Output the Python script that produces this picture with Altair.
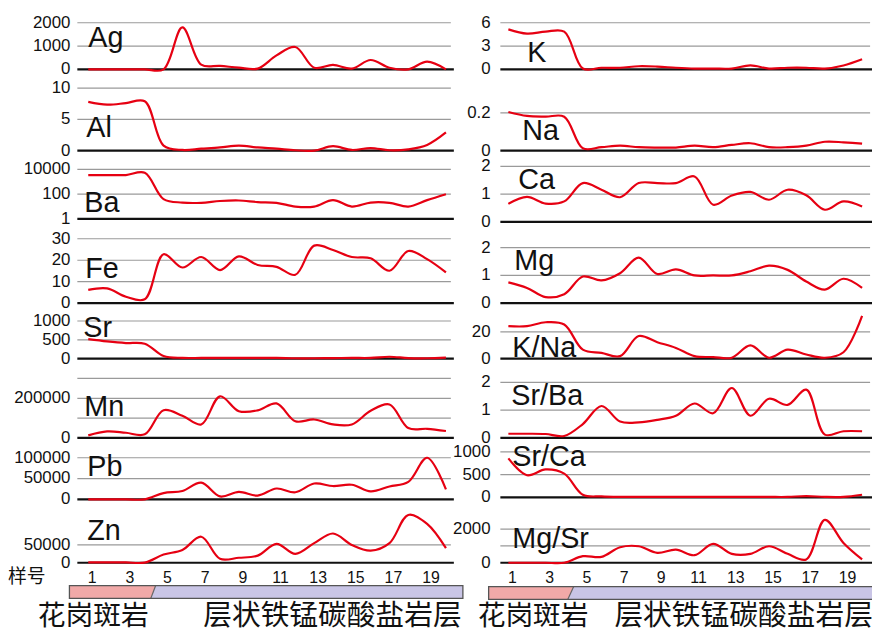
import altair as alt
import pandas as pd

samples = list(range(1, 21))
xlabels = [1, 3, 5, 7, 9, 11, 13, 15, 17, 19]

# left column
ag = [0, 0, 0, 0, 0, 1800, 200, 150, 70, 30, 600, 960, 70, 190, 30, 400, 70, 0, 330, 0]
al = [7.8, 7.35, 7.6, 7.9, 0.8, 0.1, 0.3, 0.5, 0.8, 0.5, 0.3, 0.05, 0.0, 0.7, 0.1, 0.4, 0.05, 0.2, 0.9, 2.9]
ba = [3500, 3500, 3500, 5400, 40, 21, 20, 28, 31, 23, 20, 10, 10, 33, 10, 21, 20, 10, 33, 100]
fe = [6.2, 6.9, 3.0, 1.8, 22.8, 16.6, 21.5, 15.4, 21.8, 17.8, 16.9, 13.2, 26.8, 24.8, 21.5, 20.9, 15.1, 24.3, 20.5, 14.3]
sr = [517, 457, 414, 397, 70, 20, 20, 20, 20, 20, 20, 10, 10, 15, 20, 20, 50, 15, 10, 25]
mn = [13000, 33000, 26000, 18000, 140000, 112000, 68000, 210000, 135000, 139000,
      174000, 84000, 93000, 68000, 68000, 137000, 169000, 50000, 46000, 35000]
pb = [0, 0, 0, 0, 15000, 20000, 40000, 7000, 18000, 9000,
      26000, 17000, 38000, 32000, 35000, 19000, 31000, 42000, 100000, 24000]
zn = [1000, 1000, 1000, 500, 23000, 36000, 73000, 11000, 14000, 20000,
      53000, 25000, 55000, 82000, 50000, 34000, 55000, 134000, 109000, 41000]

# right column
k = [5.15, 4.6, 4.85, 4.85, 0.1, 0.2, 0.2, 0.4, 0.35, 0.2, 0.1, 0.1, 0.1, 0.5, 0.1, 0.2, 0.2, 0.1, 0.5, 1.3]
na = [0.205, 0.184, 0.18, 0.18, 0.012, 0.018, 0.026, 0.018, 0.016, 0.016,
      0.026, 0.018, 0.03, 0.039, 0.018, 0.018, 0.026, 0.047, 0.044, 0.037]
ca = [0.65, 0.9, 0.66, 0.74, 1.4, 1.16, 0.89, 1.4, 1.4, 1.4, 1.64, 0.62, 0.95, 1.08, 0.8, 1.16, 0.96, 0.44, 0.74, 0.56]
mg = [0.75, 0.55, 0.22, 0.32, 0.96, 0.82, 1.08, 1.64, 1.05, 1.22, 1.0, 1.0, 1.0, 1.15, 1.35, 1.2, 0.78, 0.49, 0.88, 0.55]
kna = [24.3, 24.3, 27.2, 25.5, 6.7, 4.3, 1.9, 16.9, 12.3, 8, 1.9, 1.2, 0.7, 9.9, 0.7, 6.7, 3.1, 0.7, 4.8, 32]
srba = [0.15, 0.15, 0.14, 0.07, 0.5, 1.15, 0.59, 0.56, 0.65, 0.8, 1.24, 0.89, 1.8, 0.8, 1.41, 1.19, 1.74, 0.12, 0.24, 0.24]
srca = [857, 486, 614, 521, 57, 21, 10, 10, 10, 10, 10, 10, 10, 10, 10, 10, 29, 10, 10, 57]
mgsr = [0, 0, 0, 0, 390, 350, 920, 980, 590, 780, 450, 1120, 530, 530, 980, 530, 200, 2550, 1180, 200]

lith_left = "花岗斑岩"
lith_right = "层状铁锰碳酸盐岩层"

RED = "#e60012"
GRID = "#9a9a9a"
FONT = "Liberation Sans"
CJK = "Noto Sans CJK SC"

# column geometry (chart pixel coords)
COLS = {
    "L": dict(xr=[81, 442], g0=0.42, g1=20.26, b1=20.42, lx=63, bar=[0.0, 20.9, 4.32, 4.58]),
    "R": dict(xr=[505, 862], g0=0.57, g1=20.43, b1=20.6, lx=487, bar=[-0.06, 21.0, 4.19, 4.51]),
}

panels = [
    # name, values, col, domain, range, grid values, tick labels, label pos, scale type
    ("Ag", ag, "L", [0, 2000], [59, 12], [0, 1000, 2000], ["0", "1000", "2000"], (81, 36), "linear"),
    ("Al", al, "L", [0, 10], [141, 78], [0, 5, 10], ["0", "5", "10"], (79, 127), "linear"),
    ("Ba", ba, "L", [1, 10000], [210, 160], [1, 100, 10000], ["1", "100", "10000"], (77, 203), "log"),
    ("Fe", fe, "L", [0, 30], [295, 230], [0, 10, 20, 30], ["0", "10", "20", "30"], (78, 270), "linear"),
    ("Sr", sr, "L", [0, 1000], [351, 313], [0, 500, 1000], ["0", "500", "1000"], (76, 329), "linear"),
    ("Mn", mn, "L", [0, 300000], [431, 371], [0, 100000, 200000, 300000], ["0", "", "200000", ""], (77, 409), "linear"),
    ("Pb", pb, "L", [0, 100000], [493, 451], [0, 50000, 100000], ["0", "50000", "100000"], (80, 469), "linear"),
    ("Zn", zn, "L", [0, 50000], [557, 539], [0, 50000], ["0", "50000"], (80, 534), "linear"),
    ("K", k, "R", [0, 6], [59, 12], [0, 3, 6], ["0", "3", "6"], (524, 52), "linear"),
    ("Na", na, "R", [0, 0.2], [141, 103], [0, 0.2], ["0", "0.2"], (519, 130), "linear"),
    ("Ca", ca, "R", [0, 2], [213, 157], [0, 1, 2], ["0", "1", "2"], (515, 180), "linear"),
    ("Mg", mg, "R", [0, 2], [295, 239], [0, 1, 2], ["0", "1", "2"], (511, 262), "linear"),
    ("K/Na", kna, "R", [0, 20], [351, 324], [0, 20], ["0", "20"], (509, 349), "linear"),
    ("Sr/Ba", srba, "R", [0, 2], [431, 375], [0, 1, 2], ["0", "1", "2"], (508, 398), "linear"),
    ("Sr/Ca", srca, "R", [0, 1000], [491, 445], [0, 500, 1000], ["0", "500", "1000"], (509, 459), "linear"),
    ("Mg/Sr", mgsr, "R", [0, 2000], [557, 523], [0, 1000, 2000], ["0", "", "2000"], (509, 542), "linear"),
]

layers = []
for name, vals, col, dom, rng, grid, ticks, (px, py), stype in panels:
    c = COLS[col]
    xs = alt.Scale(domain=[1, 20], range=c["xr"])
    ys = alt.Scale(type=stype, domain=dom, range=rng)
    gdf = pd.DataFrame({"v": grid[1:], "x0": c["g0"], "x1": c["g1"]})
    bdf = pd.DataFrame({"v": grid[:1], "x0": c["g0"], "x1": c["b1"]})
    tdf = pd.DataFrame({"v": grid, "t": ticks})
    ldf = pd.DataFrame({"s": samples, "v": vals})
    gl = alt.Chart(gdf).mark_rule(color=GRID, strokeWidth=1.2).encode(
        x=alt.X("x0:Q", scale=xs, axis=None), x2="x1:Q",
        y=alt.Y("v:Q", scale=ys, axis=None))
    bl = alt.Chart(bdf).mark_rule(color="#111111", strokeWidth=2.2).encode(
        x=alt.X("x0:Q", scale=xs, axis=None), x2="x1:Q",
        y=alt.Y("v:Q", scale=ys, axis=None))
    ln = alt.Chart(ldf).mark_line(color=RED, strokeWidth=2.2, interpolate="catmull-rom").encode(
        x=alt.X("s:Q", scale=xs, axis=None),
        y=alt.Y("v:Q", scale=ys, axis=None))
    tk = alt.Chart(tdf).mark_text(align="right", baseline="middle", font=FONT, fontSize=17,
                                  color="#111111").encode(
        x=alt.value(c["lx"]), y=alt.Y("v:Q", scale=ys, axis=None), text="t:N")
    nm = alt.Chart(pd.DataFrame({"t": [name]})).mark_text(
        align="left", baseline="alphabetic", font=FONT, fontSize=29, color="#111111").encode(
        x=alt.value(px), y=alt.value(py), text="t:N")
    layers.append(alt.layer(gl, bl, ln, tk, nm))

# bottom: sample-number ticks, lithology bars and labels
for col, ybar in (("L", [593, 580]), ("R", [594, 581])):
    c = COLS[col]
    xs = alt.Scale(domain=[1, 20], range=c["xr"])
    yb = alt.Scale(domain=[0, 1], range=ybar)
    a, b, p0, p1 = c["bar"]
    xt = alt.Chart(pd.DataFrame({"s": xlabels, "t": [str(v) for v in xlabels]})).mark_text(
        baseline="alphabetic", font=FONT, fontSize=16, color="#111111", dx=4).encode(
        x=alt.X("s:Q", scale=xs, axis=None), y=alt.value(577), text="t:N")
    rect_df = pd.DataFrame({"a": [a], "b": [b], "y0": [0], "y1": [1]})
    full = alt.Chart(rect_df).mark_rect(fill="#c9c5e6").encode(
        x=alt.X("a:Q", scale=xs, axis=None), x2="b:Q",
        y=alt.Y("y0:Q", scale=yb, axis=None), y2="y1:Q")
    pink = alt.Chart(pd.DataFrame({"yy": [0, 1], "xl": [a, a], "xr": [p0, p1]})).mark_area(
        orient="horizontal", color="#f1a9a8", opacity=1).encode(
        y=alt.Y("yy:Q", scale=yb, axis=None),
        x=alt.X("xl:Q", scale=xs, axis=None), x2="xr:Q")
    slant = alt.Chart(pd.DataFrame({"xx": [p0, p1], "yy": [0, 1]})).mark_line(
        color="#666666", strokeWidth=1.2).encode(
        x=alt.X("xx:Q", scale=xs, axis=None), y=alt.Y("yy:Q", scale=yb, axis=None))
    outline = alt.Chart(rect_df).mark_rect(fillOpacity=0, stroke="#555555", strokeWidth=1.3).encode(
        x=alt.X("a:Q", scale=xs, axis=None), x2="b:Q",
        y=alt.Y("y0:Q", scale=yb, axis=None), y2="y1:Q")
    layers.append(alt.layer(xt, full, pink, slant, outline))

texts = pd.DataFrame({
    "t": ["样号", lith_left, lith_right, lith_left, lith_right],
    "px": [0, 30, 197, 474, 612],
    "py": [577, 620, 620, 620, 620],
    "fs": [19, 28, 29, 28, 29],
})
for _, r in texts.iterrows():
    layers.append(alt.Chart(pd.DataFrame({"t": [r["t"]]})).mark_text(
        align="left", baseline="alphabetic", font=CJK, fontSize=int(r["fs"]), color="#111111").encode(
        x=alt.value(int(r["px"])), y=alt.value(int(r["py"])), text="t:N"))

chart = alt.layer(*layers).resolve_scale(x="independent", y="independent").properties(
    width=872, height=626, padding=0, autosize=alt.AutoSizeParams(type="none"),
    background="white"
).configure_view(stroke=None)

chart.save("out.html", embed_options={"renderer": "svg", "actions": False})
